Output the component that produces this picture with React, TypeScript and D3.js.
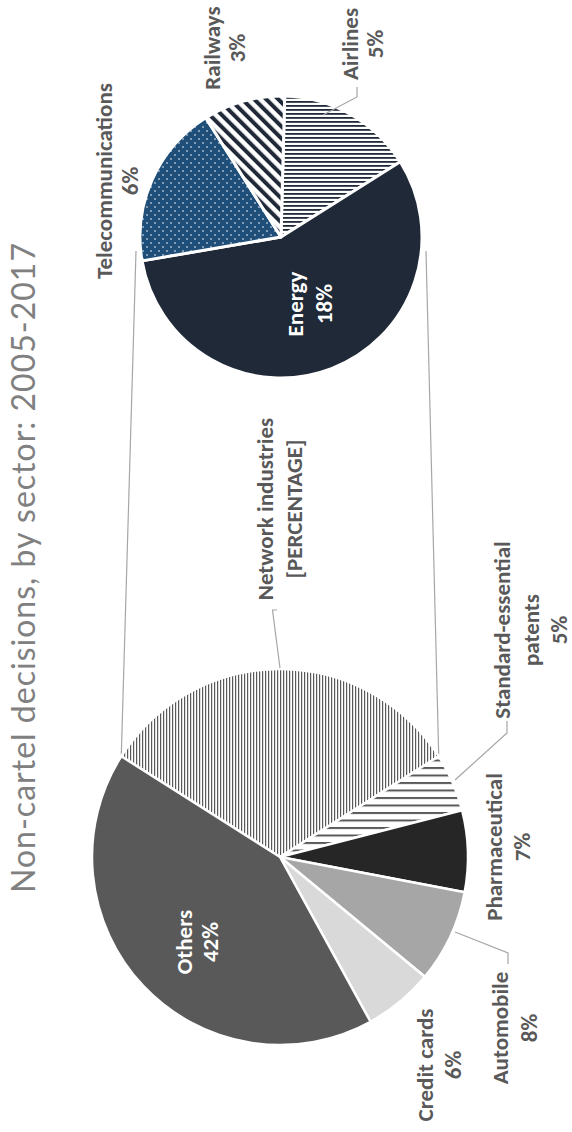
import React from 'react';
import * as d3 from 'd3';

// ---------- data ----------
const title = 'Non-cartel decisions, by sector: 2005-2017';
const mainCategories = ['Network industries', 'Standard-essential patents', 'Pharmaceutical', 'Automobile', 'Credit cards', 'Others'];
const mainValues = [32, 5, 7, 8, 6, 42];
const mainValueText = ['[PERCENTAGE]', '5%', '7%', '8%', '6%', '42%'];
const subCategories = ['Airlines', 'Energy', 'Telecommunications', 'Railways'];
const subValues = [5, 18, 6, 3];
const subValueText = ['5%', '18%', '6%', '3%'];

// ---------- layout / style ----------
const W = 572;
const H = 1132;
const MAIN = { cx: 280, cy: 857, r: 188 };
const SUB = { cx: 281, cy: 237, r: 141 };
const SUB_START_DEG = 1.5;

const fills: Record<string, string> = {
  'Network industries': 'url(#patVert)',
  'Standard-essential patents': 'url(#patHorzWide)',
  Pharmaceutical: '#262626',
  Automobile: '#a6a6a6',
  'Credit cards': '#d9d9d9',
  Others: '#595959',
  Airlines: 'url(#patHorzNavy)',
  Energy: '#1f2937',
  Telecommunications: 'url(#patDots)',
  Railways: 'url(#patDiag)',
};

// label layout: baseline x of first line, centre y, line step, name lines, colour
const labelLayout: Record<string, { x: number; y: number; step: number; name: string[]; color: string }> = {
  'Network industries': { x: 273, y: 509, step: 29, name: ['Network industries'], color: '#595959' },
  'Standard-essential patents': { x: 510, y: 630, step: 28.5, name: ['Standard-essential', 'patents'], color: '#595959' },
  Pharmaceutical: { x: 502, y: 847, step: 28, name: ['Pharmaceutical'], color: '#595959' },
  Automobile: { x: 508, y: 1028, step: 29, name: ['Automobile'], color: '#595959' },
  'Credit cards': { x: 433, y: 1065, step: 28, name: ['Credit cards'], color: '#595959' },
  Others: { x: 192, y: 942, step: 26, name: ['Others'], color: '#ffffff' },
  Airlines: { x: 358, y: 44, step: 25, name: ['Airlines'], color: '#595959' },
  Energy: { x: 303, y: 304, step: 29, name: ['Energy'], color: '#ffffff' },
  Telecommunications: { x: 112, y: 181, step: 26, name: ['Telecommunications'], color: '#595959' },
  Railways: { x: 220, y: 48, step: 25, name: ['Railways'], color: '#595959' },
};

const leaders: Record<string, [number, number][]> = {
  'Network industries': [[277, 610], [272.5, 610], [280, 668]],
  Airlines: [[357, 87], [357, 97], [323, 115]],
  'Standard-essential patents': [[507, 721], [507, 733], [455, 780]],
  Automobile: [[508, 964], [508, 953], [455, 932]],
};

const LABEL_FONT = 'Carlito, Calibri, Lato, "Open Sans", sans-serif';

function Label({ cat, value }: { cat: string; value: string }) {
  const l = labelLayout[cat];
  const lines = [...l.name, value];
  return (
    <text
      transform={`translate(${l.x},${l.y}) rotate(-90)`}
      textAnchor="middle"
      fontFamily={LABEL_FONT}
      fontWeight={700}
      fontSize={23}
      fill={l.color}
    >
      {lines.map((t, i) => (
        <tspan key={i} x={0} y={i * l.step}>
          {t}
        </tspan>
      ))}
    </text>
  );
}

export default function App() {
  const mainTotal = d3.sum(mainValues);
  const mainStart = (-Math.PI * mainValues[0]) / mainTotal;
  const mainPie = d3
    .pie<number>()
    .sort(null)
    .startAngle(mainStart)
    .endAngle(mainStart + 2 * Math.PI)(mainValues);
  const subStart = (SUB_START_DEG * Math.PI) / 180;
  const subPie = d3
    .pie<number>()
    .sort(null)
    .startAngle(subStart)
    .endAngle(subStart + 2 * Math.PI)(subValues);

  const mainArc = d3.arc<d3.PieArcDatum<number>>().innerRadius(0).outerRadius(MAIN.r);
  const subArc = d3.arc<d3.PieArcDatum<number>>().innerRadius(0).outerRadius(SUB.r);

  const pt = (c: { cx: number; cy: number }, r: number, a: number): [number, number] => [
    c.cx + r * Math.sin(a),
    c.cy - r * Math.cos(a),
  ];
  const netL = pt(MAIN, MAIN.r, mainPie[0].startAngle);
  const netR = pt(MAIN, MAIN.r, mainPie[0].endAngle);
  const subL: [number, number] = [SUB.cx - SUB.r - 4, SUB.cy + 14];
  const subR: [number, number] = [SUB.cx + SUB.r + 4, SUB.cy + 14];
  const line = d3.line();

  return (
    <svg width={W} height={H} style={{ position: 'absolute', left: 0, top: 0, background: '#fff' }}>
      <defs>
        <pattern id="patVert" patternUnits="userSpaceOnUse" width={3} height={3}>
          <rect width={3} height={3} fill="#fff" />
          <rect x={0} y={0} width={1.2} height={3} fill="#595959" />
        </pattern>
        <pattern id="patHorzWide" patternUnits="userSpaceOnUse" width={8} height={7.5}>
          <rect width={8} height={7.5} fill="#fff" />
          <rect x={0} y={0} width={8} height={2} fill="#595959" />
        </pattern>
        <pattern id="patHorzNavy" patternUnits="userSpaceOnUse" width={4} height={4}>
          <rect width={4} height={4} fill="#fff" />
          <rect x={0} y={0} width={4} height={1.8} fill="#1f2937" />
        </pattern>
        <pattern id="patDiag" patternUnits="userSpaceOnUse" width={8.5} height={8.5} patternTransform="rotate(-45)">
          <rect width={8.5} height={8.5} fill="#fff" />
          <rect x={0} y={0} width={4} height={8.5} fill="#1f2937" />
        </pattern>
        <pattern id="patDots" patternUnits="userSpaceOnUse" width={8} height={8}>
          <rect width={8} height={8} fill="#1f4e79" />
          <circle cx={2} cy={2} r={0.8} fill="#fff" />
          <circle cx={6} cy={6} r={0.8} fill="#fff" />
        </pattern>
      </defs>

      {/* title */}
      <text
        transform={`translate(35,568) rotate(-90)`}
        textAnchor="middle"
        fontFamily='"Calibri Light", Lato, "Open Sans", sans-serif'
        fontWeight={400}
        fontSize={32}
        fill="#808080"
        textLength={650}
        lengthAdjust="spacing"
      >
        {title}
      </text>

      {/* connector lines */}
      <path d={line([netL, subL]) || ''} stroke="#a6a6a6" strokeWidth={1.2} fill="none" />
      <path d={line([netR, subR]) || ''} stroke="#a6a6a6" strokeWidth={1.2} fill="none" />

      {/* main pie */}
      <g transform={`translate(${MAIN.cx},${MAIN.cy})`}>
        {mainPie.map((d, i) => (
          <path key={i} d={mainArc(d) || ''} fill={fills[mainCategories[i]]} stroke="#fff" strokeWidth={2.5} strokeLinejoin="round" />
        ))}
      </g>

      {/* second pie */}
      <g transform={`translate(${SUB.cx},${SUB.cy})`}>
        {subPie.map((d, i) => (
          <path key={i} d={subArc(d) || ''} fill={fills[subCategories[i]]} stroke="#fff" strokeWidth={3} strokeLinejoin="round" />
        ))}
      </g>

      {/* leader lines */}
      {Object.entries(leaders).map(([k, pts]) => (
        <path key={k} d={line(pts) || ''} stroke="#a6a6a6" strokeWidth={1.2} fill="none" />
      ))}

      {/* labels */}
      {mainCategories.map((c, i) => (
        <Label key={c} cat={c} value={mainValueText[i]} />
      ))}
      {subCategories.map((c, i) => (
        <Label key={c} cat={c} value={subValueText[i]} />
      ))}
    </svg>
  );
}
